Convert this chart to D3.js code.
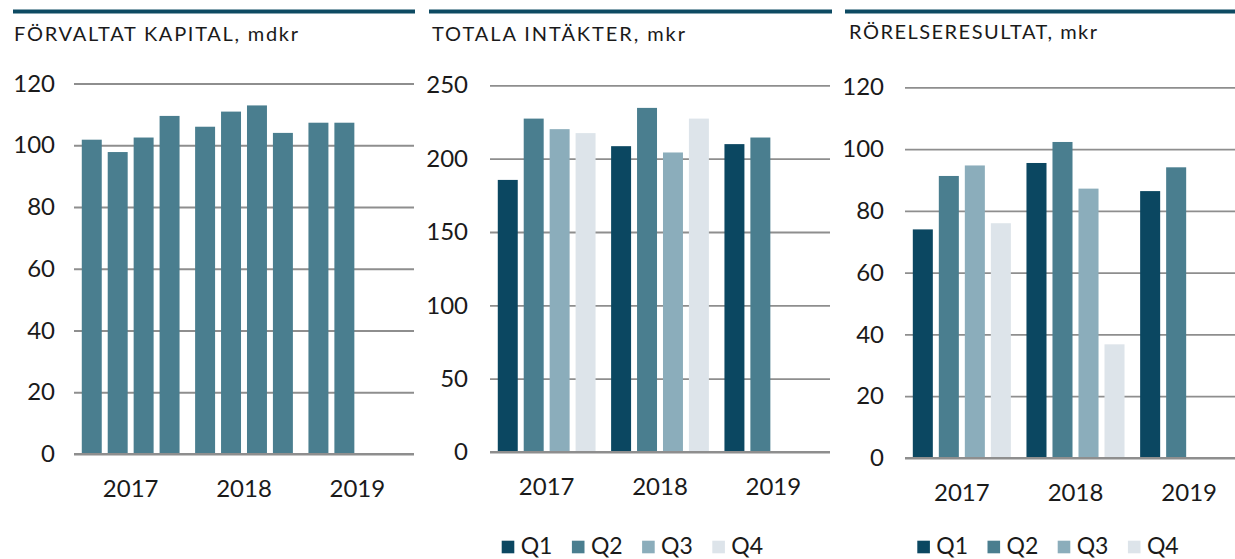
<!DOCTYPE html>
<html lang="sv">
  <head>
    <meta charset="UTF-8" />
    <title>Kvartalsdata</title>
    <script src="https://d3js.org/d3.v7.min.js"></script>
    <style>
      body { margin: 0; background: #fff; }
      text { font-family: Lato, "Open Sans", sans-serif; fill: #1a1a1a; }
    </style>
  </head>
  <body>
    <svg id="chart" width="1235" height="559"></svg>
    <script>
      // data, one row per year (Q1..Q4)
      const years = ["2017", "2018", "2019"];
      const quarters = ["Q1", "Q2", "Q3", "Q4"];

      const kapital = [
        [101.8, 97.8, 102.5, 109.5],
        [106.0, 110.9, 112.9, 104.0],
        [107.3, 107.3]
      ];
      const intakter = [
        [185.5, 227.3, 220.1, 217.4],
        [208.5, 234.6, 204.2, 227.3],
        [209.9, 214.4]
      ];
      const resultat = [
        [74.0, 91.3, 94.7, 76.0],
        [95.5, 102.3, 87.2, 36.8],
        [86.4, 94.1]
      ];

      const kapitalTicks = [0, 20, 40, 60, 80, 100, 120];
      const intakterTicks = [0, 50, 100, 150, 200, 250];
      const resultatTicks = [0, 20, 40, 60, 80, 100, 120];

      const colors = ["#0b4761", "#4a7e8f", "#8badbb", "#dde4ea"];
      const gridColor = "#8e8e8e";

      const svg = d3.select("#chart");

      function panel(p) {
        const g = svg.append("g");

        // thick rule above the title
        g.append("rect")
          .attr("x", p.ruleX[0])
          .attr("y", 9.5)
          .attr("width", p.ruleX[1] - p.ruleX[0])
          .attr("height", 4)
          .attr("fill", "#0d4a62");

        g.append("text")
          .attr("x", p.titleX)
          .attr("y", p.titleY)
          .attr("textLength", p.titleW)
          .attr("lengthAdjust", "spacing")
          .style("font-size", "20px")
          .text(p.title);

        const y = d3.scaleLinear()
          .domain([0, d3.max(p.ticks)])
          .range([p.y0, p.y1]);

        const x0 = d3.scaleBand()
          .domain(years)
          .range(p.xRange);

        const x1 = d3.scaleBand()
          .domain(quarters)
          .range([0, x0.bandwidth()])
          .paddingInner(0.23)
          .paddingOuter(0.3);

        const yAxis = g.append("g")
          .attr("transform", "translate(" + p.xRange[0] + ",0)")
          .call(d3.axisLeft(y)
            .tickValues(p.ticks)
            .tickSize(-(p.gridEnd - p.xRange[0]))
            .tickPadding(p.labelGap)
            .tickFormat(d3.format("d")));
        yAxis.select(".domain").remove();
        yAxis.selectAll(".tick line")
          .attr("stroke", gridColor)
          .attr("stroke-width", 1.8);
        yAxis.selectAll(".tick text")
          .style("font-size", "24px")
          .style("font-family", "Lato, sans-serif")
          .attr("fill", "#1a1a1a");

        // bars
        const groups = g.append("g")
          .selectAll("g")
          .data(p.values)
          .join("g")
          .attr("transform", (d, i) => "translate(" + x0(years[i]) + ",0)");

        groups.selectAll("rect")
          .data(d => d.map((v, j) => ({ q: quarters[j], v: v, j: j })))
          .join("rect")
          .attr("x", d => x1(d.q))
          .attr("width", x1.bandwidth())
          .attr("y", d => y(d.v))
          .attr("height", d => y(0) - y(d.v))
          .attr("fill", d => p.single ? colors[1] : colors[d.j]);

        // redraw the zero line on top of the bars
        g.append("line")
          .attr("x1", p.xRange[0])
          .attr("x2", p.gridEnd)
          .attr("y1", y(0))
          .attr("y2", y(0))
          .attr("stroke", gridColor)
          .attr("stroke-width", 1.8);

        const xAxis = g.append("g")
          .attr("transform", "translate(0," + y(0) + ")")
          .call(d3.axisBottom(x0).tickSize(0));
        xAxis.select(".domain").remove();
        xAxis.selectAll(".tick text")
          .attr("y", 43)
          .attr("dy", 0)
          .style("font-size", "24px")
          .style("font-family", "Lato, sans-serif")
          .attr("fill", "#1a1a1a");

        if (p.legendX != null) {
          const leg = g.append("g")
            .selectAll("g")
            .data(quarters)
            .join("g")
            .attr("transform", (d, i) => "translate(" + (p.legendX + i * 70.2) + ",0)");
          leg.append("rect")
            .attr("x", 0)
            .attr("y", 540.7)
            .attr("width", 12.6)
            .attr("height", 12.6)
            .attr("fill", (d, i) => colors[i]);
          leg.append("text")
            .attr("x", 19)
            .attr("y", 553.5)
            .style("font-size", "23px")
            .text(d => d);
        }
      }

      panel({
        title: "FÖRVALTAT KAPITAL, mdkr",
        ruleX: [13, 415],
        titleX: 14, titleW: 284,
        titleY: 41,
        values: kapital,
        ticks: kapitalTicks,
        y0: 454, y1: 83.5,
        xRange: [74, 414],
        gridEnd: 414,
        labelGap: 19,
        single: true,
        legendX: null
      });

      panel({
        title: "TOTALA INTÄKTER, mkr",
        ruleX: [429, 832],
        titleX: 432, titleW: 253,
        titleY: 41,
        values: intakter,
        ticks: intakterTicks,
        y0: 452, y1: 85.3,
        xRange: [490, 830],
        gridEnd: 830,
        labelGap: 22,
        single: false,
        legendX: 501.7
      });

      panel({
        title: "RÖRELSERESULTAT, mkr",
        ruleX: [845, 1235],
        titleX: 849, titleW: 248,
        titleY: 39,
        values: resultat,
        ticks: resultatTicks,
        y0: 458, y1: 87.3,
        xRange: [905, 1246],
        gridEnd: 1235,
        labelGap: 21,
        single: false,
        legendX: 917.3
      });
    </script>
  </body>
</html>
